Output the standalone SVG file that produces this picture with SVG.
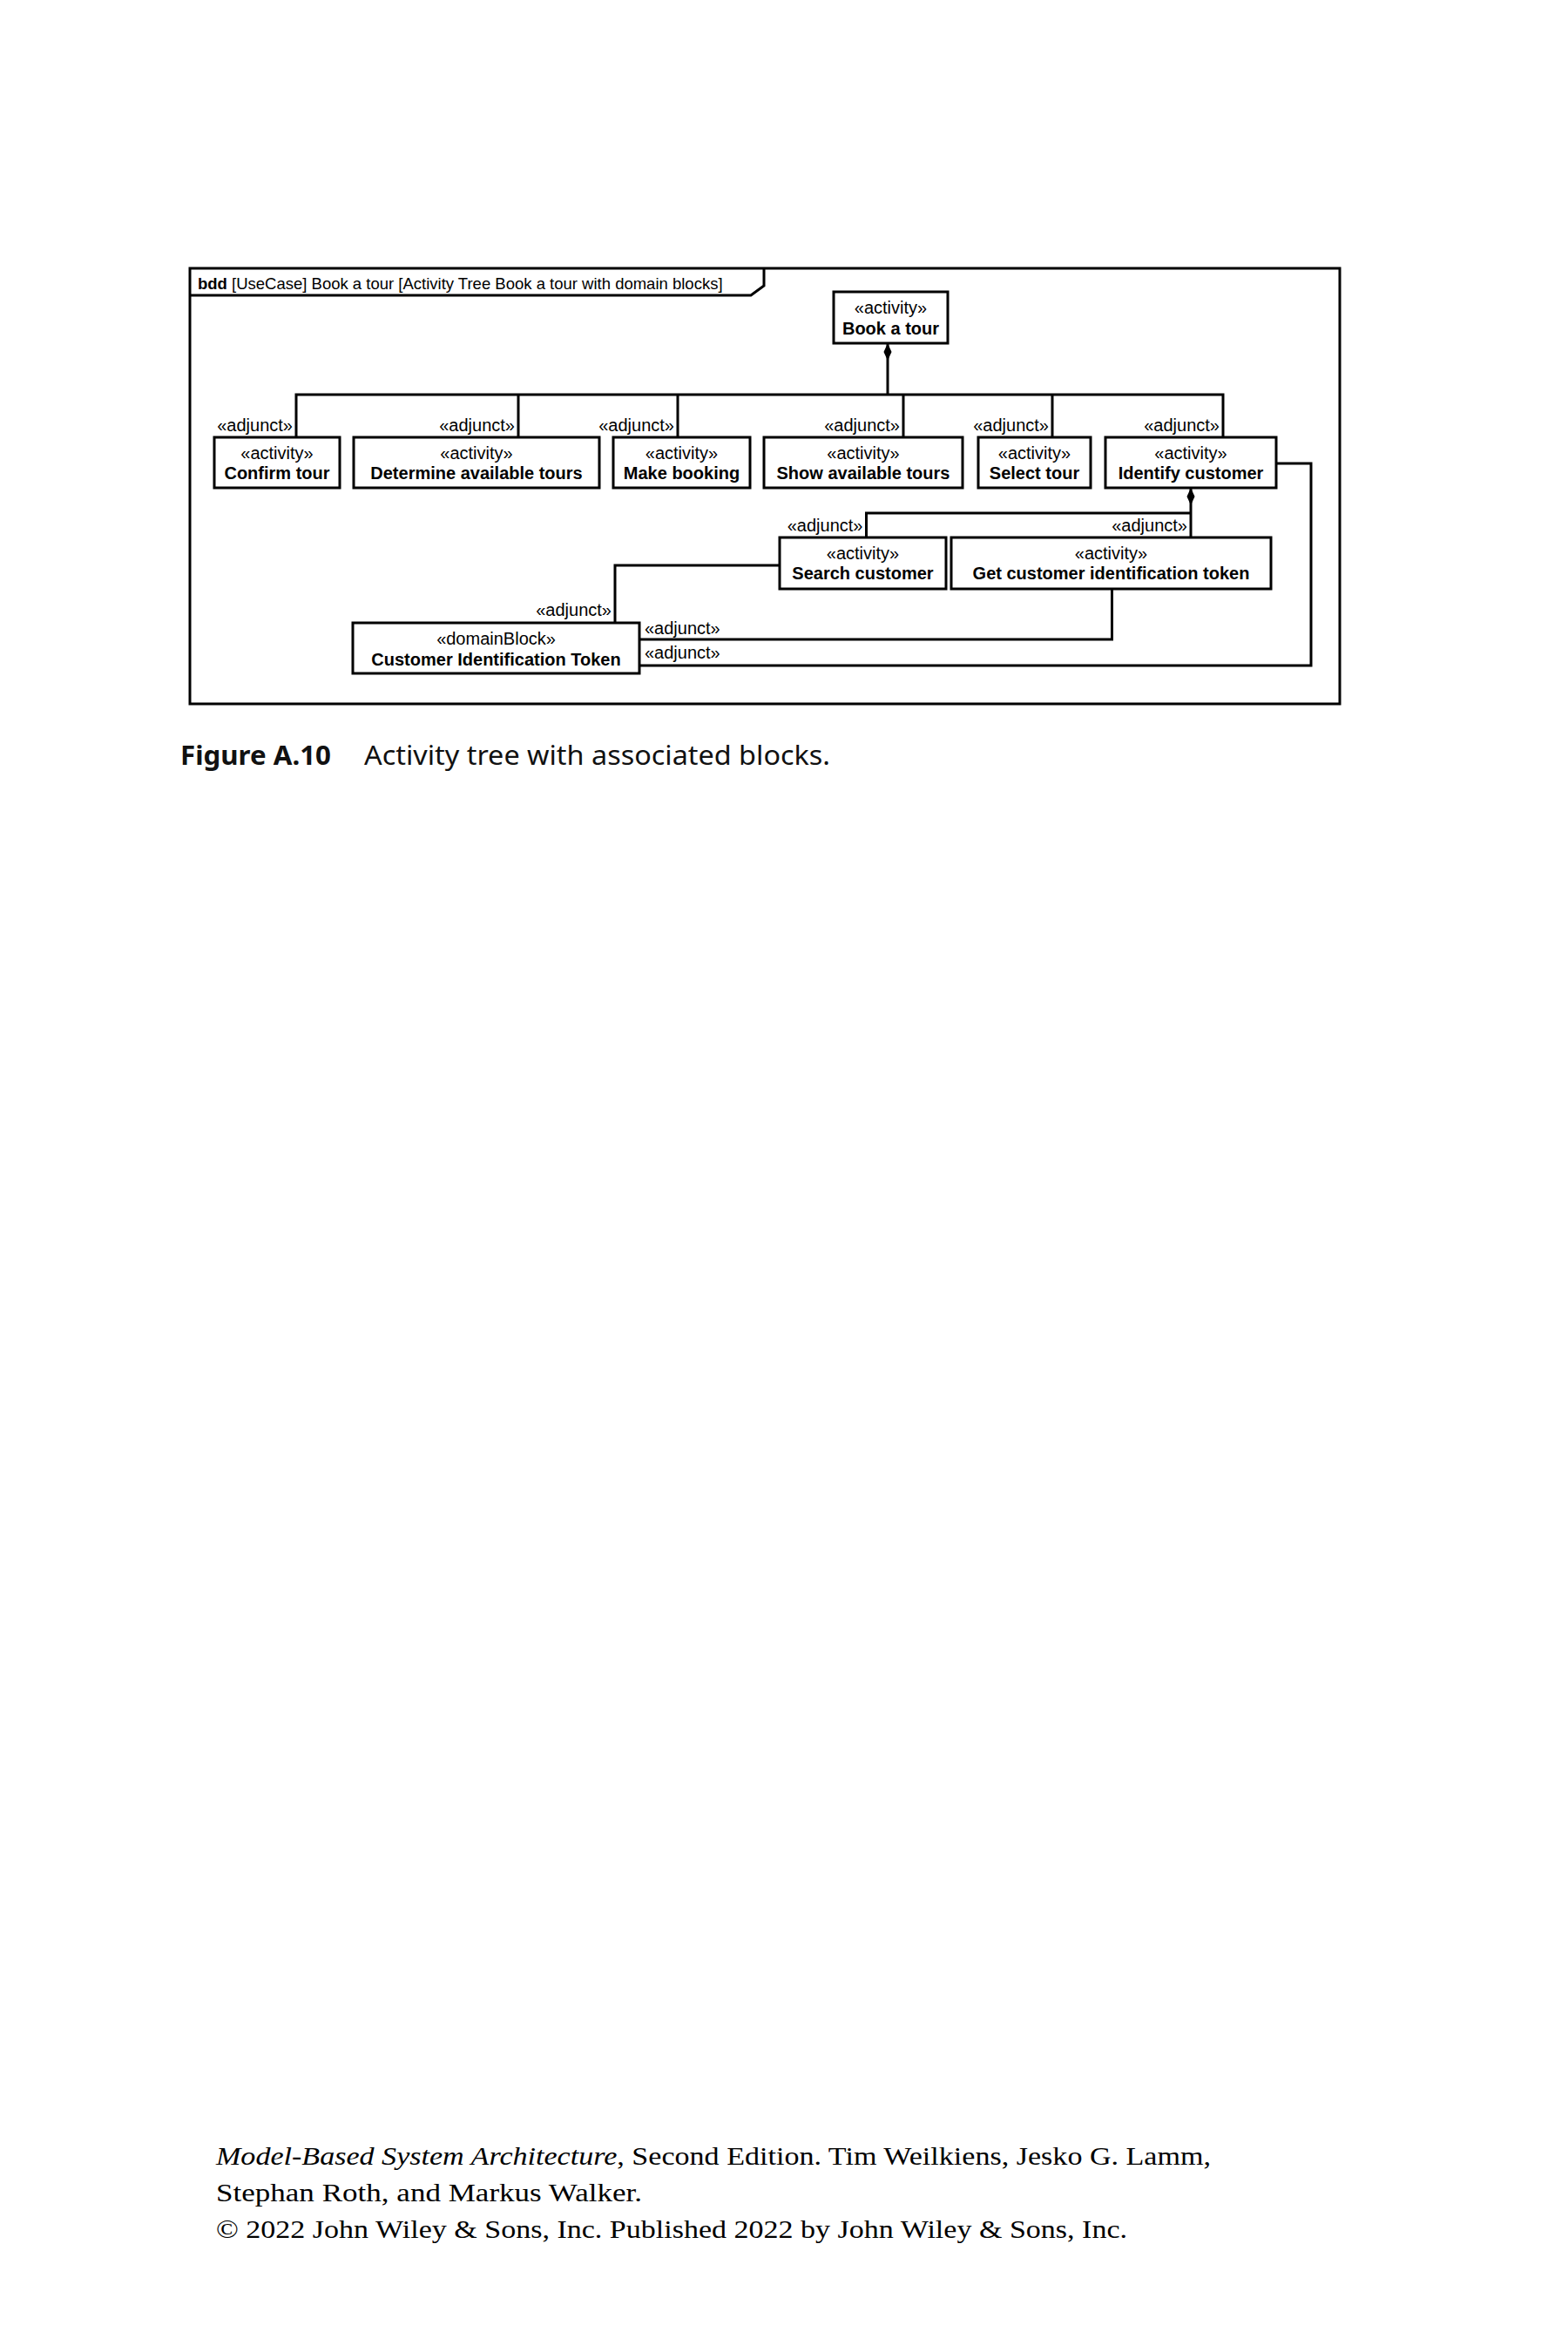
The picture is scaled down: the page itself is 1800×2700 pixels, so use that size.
<svg xmlns="http://www.w3.org/2000/svg" width="1800" height="2700" viewBox="0 0 1800 2700">
<defs>
<style>
.box{fill:#fff;stroke:#000;stroke-width:3}
.frame{fill:none;stroke:#000;stroke-width:3}
.con{fill:none;stroke:#000;stroke-width:3}
.st{font-family:"Liberation Sans",Arial,sans-serif;font-size:20px;fill:#000;text-anchor:middle}
.nm{font-family:"Liberation Sans",Arial,sans-serif;font-size:20px;font-weight:bold;fill:#000;text-anchor:middle}
.adj{font-family:"Liberation Sans",Arial,sans-serif;font-size:20px;fill:#000;text-anchor:end}
.adjL{font-family:"Liberation Sans",Arial,sans-serif;font-size:20px;fill:#000;text-anchor:start}
.title{font-family:"Liberation Sans",Arial,sans-serif;font-size:18.5px;fill:#000}
.cap{font-family:"Noto Sans","Open Sans",sans-serif;font-size:31px;fill:#111}
.foot{font-family:"Liberation Serif","Times New Roman",serif;font-size:29px;fill:#000}
</style>
<marker id="diamond" viewBox="0 -5 22 10" markerWidth="22" markerHeight="10" refX="0" refY="0" orient="auto" markerUnits="userSpaceOnUse">
<path d="M0,0 L10,-4.5 L20,0 L10,4.5 Z" fill="#000"/>
</marker>
</defs>
<rect width="1800" height="2700" fill="#fff"/>

<g id="frame">
<rect class="frame" x="218" y="308" width="1320" height="500"/>
<path class="frame" d="M218,339 H862 L877,328 V308"/>
<text class="title" x="227" y="332"><tspan font-weight="bold">bdd</tspan> [UseCase] Book a tour [Activity Tree Book a tour with domain blocks]</text>
</g>

<g id="connectors">
<path class="con" d="M1019,394 V453" marker-start="url(#diamond)"/>
<path class="con" d="M340,502 V453 H1404 V502"/>
<path class="con" d="M595,453 V502"/>
<path class="con" d="M778,453 V502"/>
<path class="con" d="M1037,453 V502"/>
<path class="con" d="M1208,453 V502"/>
<path class="con" d="M1367,560 V617" marker-start="url(#diamond)"/>
<path class="con" d="M1367,589 H994.5 V617"/>
<path class="con" d="M895,649 H706 V715"/>
<path class="con" d="M1276.5,676 V734 H734"/>
<path class="con" d="M1465,532 H1505 V764 H734"/>
<text class="adj" x="336" y="495">«adjunct»</text>
<text class="adj" x="591" y="495">«adjunct»</text>
<text class="adj" x="774" y="495">«adjunct»</text>
<text class="adj" x="1033" y="495">«adjunct»</text>
<text class="adj" x="1204" y="495">«adjunct»</text>
<text class="adj" x="1400" y="495">«adjunct»</text>
<text class="adj" x="990.5" y="610">«adjunct»</text>
<text class="adj" x="1363" y="610">«adjunct»</text>
<text class="adj" x="702" y="707">«adjunct»</text>
<text class="adjL" x="740" y="728">«adjunct»</text>
<text class="adjL" x="740" y="756">«adjunct»</text>
</g>

<g id="node-book-a-tour">
<rect class="box" x="957" y="335" width="131" height="59"/>
<text class="st" x="1022.5" y="360">«activity»</text>
<text class="nm" x="1022.5" y="384">Book a tour</text>
</g>

<g id="node-confirm-tour">
<rect class="box" x="246" y="502" width="144" height="58"/>
<text class="st" x="318" y="527">«activity»</text>
<text class="nm" x="318" y="550">Confirm tour</text>
</g>

<g id="node-determine-available-tours">
<rect class="box" x="406" y="502" width="282" height="58"/>
<text class="st" x="547" y="527">«activity»</text>
<text class="nm" x="547" y="550">Determine available tours</text>
</g>

<g id="node-make-booking">
<rect class="box" x="704" y="502" width="157" height="58"/>
<text class="st" x="782.5" y="527">«activity»</text>
<text class="nm" x="782.5" y="550">Make booking</text>
</g>

<g id="node-show-available-tours">
<rect class="box" x="877" y="502" width="228" height="58"/>
<text class="st" x="991" y="527">«activity»</text>
<text class="nm" x="991" y="550">Show available tours</text>
</g>

<g id="node-select-tour">
<rect class="box" x="1123" y="502" width="129" height="58"/>
<text class="st" x="1187.5" y="527">«activity»</text>
<text class="nm" x="1187.5" y="550">Select tour</text>
</g>

<g id="node-identify-customer">
<rect class="box" x="1269" y="502" width="196" height="58"/>
<text class="st" x="1367" y="527">«activity»</text>
<text class="nm" x="1367" y="550">Identify customer</text>
</g>

<g id="node-search-customer">
<rect class="box" x="895" y="617" width="191" height="59"/>
<text class="st" x="990.5" y="642">«activity»</text>
<text class="nm" x="990.5" y="665">Search customer</text>
</g>

<g id="node-get-customer-identification-token">
<rect class="box" x="1092" y="617" width="367" height="59"/>
<text class="st" x="1275.5" y="642">«activity»</text>
<text class="nm" x="1275.5" y="665">Get customer identification token</text>
</g>

<g id="node-customer-identification-token">
<rect class="box" x="405" y="715" width="329" height="58"/>
<text class="st" x="569.5" y="740">«domainBlock»</text>
<text class="nm" x="569.5" y="764">Customer Identification Token</text>
</g>

<g id="caption">
<text class="cap" x="207" y="878" font-weight="bold" textLength="173" lengthAdjust="spacingAndGlyphs">Figure A.10</text>
<text class="cap" x="418" y="878" textLength="535" lengthAdjust="spacingAndGlyphs">Activity tree with associated blocks.</text>
</g>

<g id="footer">
<text class="foot" x="248" y="2485" textLength="1142" lengthAdjust="spacingAndGlyphs"><tspan font-style="italic">Model-Based System Architecture</tspan>, Second Edition. Tim Weilkiens, Jesko G. Lamm,</text>
<text class="foot" x="248" y="2527" textLength="489" lengthAdjust="spacingAndGlyphs">Stephan Roth, and Markus Walker.</text>
<text class="foot" x="248" y="2569" textLength="1046" lengthAdjust="spacingAndGlyphs">© 2022 John Wiley &amp; Sons, Inc. Published 2022 by John Wiley &amp; Sons, Inc.</text>
</g>
</svg>
